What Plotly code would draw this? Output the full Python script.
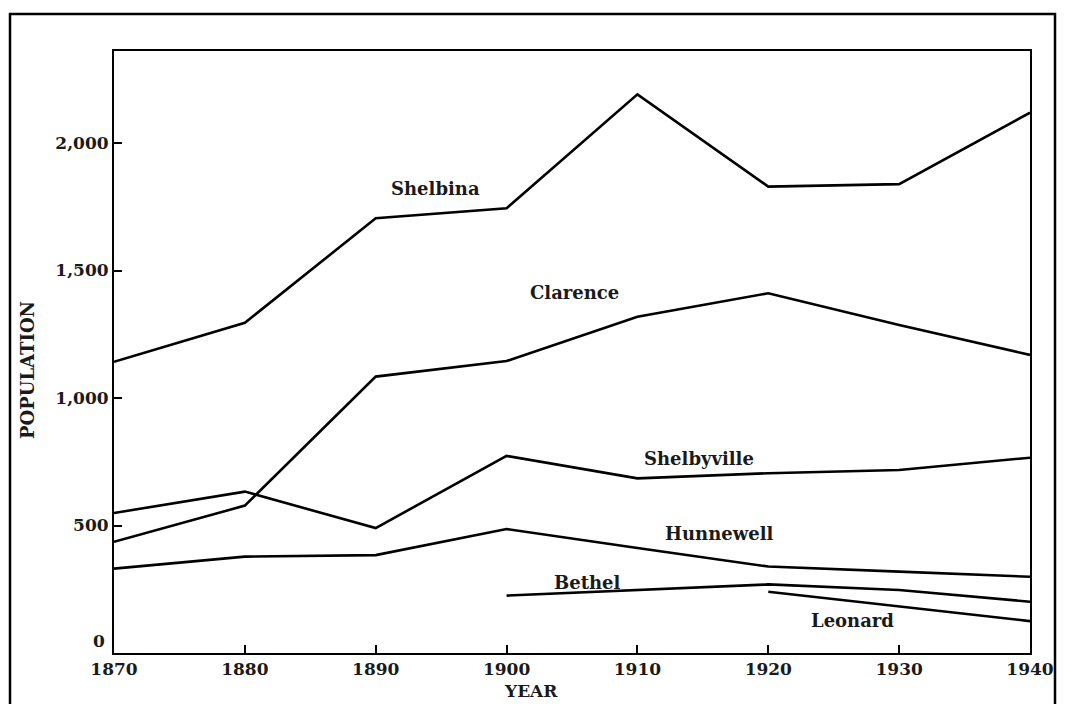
import plotly.graph_objects as go

years = [1870, 1880, 1890, 1900, 1910, 1920, 1930, 1940]
shelbina = [1142, 1295, 1705, 1744, 2191, 1829, 1839, 2119]
clarence = [436, 578, 1084, 1145, 1319, 1411, 1286, 1169]
shelbyville = [549, 633, 490, 773, 685, 705, 718, 766]
hunnewell = [331, 378, 384, 486, 412, 339, 319, 299]
bethel_years = [1900, 1910, 1920, 1930, 1940]
bethel = [225, 246, 269, 247, 201]
leonard_years = [1920, 1930, 1940]
leonard = [240, 183, 125]

label_names = ["Shelbina", "Clarence", "Shelbyville", "Hunnewell", "Bethel", "Leonard"]
label_x = [1894.6, 1905.2, 1914.7, 1916.3, 1906.2, 1926.4]
label_y = [1820, 1412, 761, 467, 278, 129]

x_ticks = [1870, 1880, 1890, 1900, 1910, 1920, 1930, 1940]
y_ticks = [0, 500, 1000, 1500, 2000]
y_tick_text = ["", "500", "1,000", "1,500", "2,000"]
zero_label = "0"

FONT = "DejaVu Serif"
INK = "#1a1a1a"

# page has an 8px body margin; plot area in page pixels: x 114..1030, y 51..653
OFF = 8
W, H = 1065 - 2 * OFF, 712 - 2 * OFF
PL, PR, PT, PB = 114, 1030, 51, 653


def px(x):
    return (x - PL) / (PR - PL)


def py(y):
    return (PB - y) / (PB - PT)


fig = go.Figure()
for xs, ys in [(years, shelbina), (years, clarence), (years, shelbyville),
               (years, hunnewell), (bethel_years, bethel), (leonard_years, leonard)]:
    fig.add_trace(go.Scatter(x=xs, y=ys, mode="lines",
                             line=dict(color="black", width=2.6),
                             showlegend=False, hoverinfo="skip"))

for name, lx, ly in zip(label_names, label_x, label_y):
    fig.add_annotation(x=lx, y=ly, text="<b>" + name + "</b>", showarrow=False,
                       xanchor="center", yanchor="middle",
                       font=dict(family=FONT, size=18, color=INK))

fig.add_annotation(xref="paper", yref="paper", x=px(531), y=py(691),
                   xanchor="center", yanchor="middle",
                   text="<b>YEAR</b>", showarrow=False,
                   font=dict(family=FONT, size=17, color=INK))
fig.add_annotation(xref="paper", yref="paper", x=px(27), y=py(370),
                   xanchor="center", yanchor="middle",
                   text="<b>POPULATION</b>", showarrow=False, textangle=-90,
                   font=dict(family=FONT, size=18, color=INK))
fig.add_annotation(xref="paper", yref="paper", x=px(99), y=py(641),
                   xanchor="center", yanchor="middle",
                   text="<b>" + zero_label + "</b>", showarrow=False,
                   font=dict(family=FONT, size=17, color=INK))

# outer border of the figure
fig.add_shape(type="rect", xref="paper", yref="paper",
              x0=px(10), x1=px(1055),
              y0=py(760), y1=py(14),
              line=dict(color="black", width=2.5))

fig.update_layout(
    width=W, height=H,
    margin=dict(l=PL - OFF, r=(OFF + W) - PR, t=PT - OFF, b=(OFF + H) - PB,
                autoexpand=False),
    paper_bgcolor="white", plot_bgcolor="white",
    xaxis=dict(range=[1870, 1940], tickvals=x_ticks, ticks="inside", ticklen=8,
               tickwidth=2, tickcolor="black", showgrid=False, zeroline=False,
               showline=True, linecolor="black", linewidth=2, mirror=True,
               automargin=False,
               tickfont=dict(family=FONT + ", serif", size=17, color=INK, weight="bold")),
    yaxis=dict(range=[0, 2361], tickvals=y_ticks, ticktext=y_tick_text,
               ticks="inside", ticklen=8, tickwidth=2, tickcolor="black",
               showgrid=False, zeroline=False, showline=True, linecolor="black",
               linewidth=2, mirror=True, automargin=False,
               tickfont=dict(family=FONT + ", serif", size=17, color=INK, weight="bold")),
)

fig.write_html("out.html")
